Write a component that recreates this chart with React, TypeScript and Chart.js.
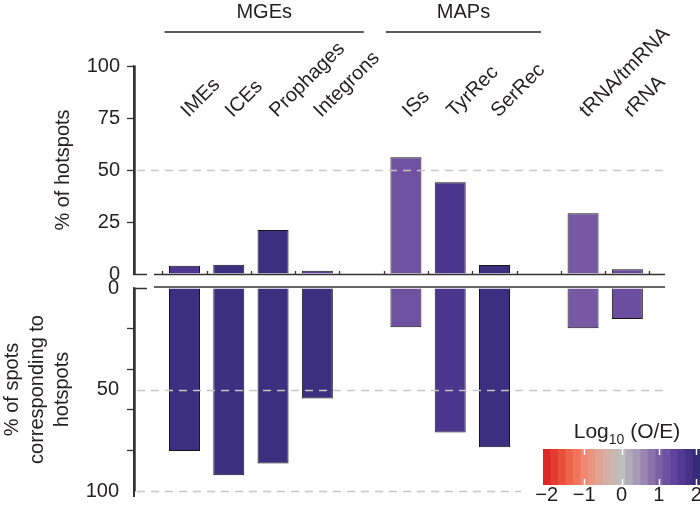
import React, { useEffect, useRef } from "react";
import { Chart, registerables } from "chart.js";
Chart.register(...registerables);

// categories along the x axis ("" = empty slot between groups)
const categories = ["IMEs", "ICEs", "Prophages", "Integrons", "", "ISs", "TyrRec", "SerRec", "", "tRNA/tmRNA", "rRNA"];
const groupNames = ["MGEs", "MAPs"];
const groupFirst = [0, 5];
const groupLast = [3, 7];

// upper panel: % of hotspots, and its log10(O/E)
const hotspotPct = [4.0, 4.5, 21.2, 1.6, null, 56.1, 44.1, 4.3, null, 29.2, 2.3];
const hotspotLogOE = [1.65, 1.9, 1.9, 1.4, null, 1.2, 1.7, 1.9, null, 1.1, 1.3];

// lower panel: % of spots corresponding to hotspots, and its log10(O/E)
const spotPct = [80.3, 92.3, 86.4, 54.4, null, 19.3, 71.2, 78.4, null, 19.8, 15.3];
const spotLogOE = [1.9, 1.9, 1.9, 1.9, null, 1.2, 1.7, 1.9, null, 1.1, 1.25];

const upperTicks = [0, 25, 50, 75, 100];
const lowerTicks = [0, 20, 40, 50, 60, 80, 100];
const lowerLabelled = [0, 50, 100];
const colorbarTicks = [-2, -1, 0, 1, 2];

const FONT = "'Liberation Sans', Arial, Helvetica, sans-serif";
const TEXT = "#231f20";
const AXIS = "#333333";
const DASH = "#c6c6c6";

// red - grey - blue ramp for log10(O/E)
const rampStops = [-2, -1.5, -1, -0.5, 0, 0.5, 1, 1.5, 2];
const rampRgb = [
  [222, 38, 38], [236, 90, 65], [240, 135, 110], [220, 170, 160], [190, 190, 190],
  [160, 145, 180], [125, 95, 165], [90, 60, 155], [52, 44, 120],
];
function oeColor(v: number) {
  const t = Math.max(-2, Math.min(2, v));
  let k = 0;
  while (k < rampStops.length - 2 && t > rampStops[k + 1]) k++;
  const f = (t - rampStops[k]) / (rampStops[k + 1] - rampStops[k]);
  const c = rampRgb[k].map((a, j) => Math.round(a + (rampRgb[k + 1][j] - a) * f));
  return `rgb(${c.join(",")})`;
}

const toPoints = (vals: (number | null)[]) =>
  categories.map((_, i) => ({ x: i, y: vals[i] })).filter((d) => d.y !== null);

const xAxis: any = {
  type: "linear",
  display: false,
  offset: false,
  grid: { offset: false },
  min: -1.14,
  max: 10.85,
  afterBuildTicks: (s: any) => {
    s.ticks = categories.map((_, i) => ({ value: i }));
  },
};

// dashed reference line at 50, drawn over the bars
function dashAt50(chart: any) {
  const { ctx, chartArea, scales } = chart;
  const y = Math.round(scales.y.getPixelForValue(50)) + 0.5;
  ctx.save();
  ctx.strokeStyle = DASH;
  ctx.lineWidth = 1.5;
  ctx.setLineDash([8, 6]);
  ctx.beginPath();
  ctx.moveTo(chartArea.left + 3, y);
  ctx.lineTo(chartArea.right, y);
  ctx.stroke();
  ctx.restore();
}

// vertical axis line, drawn a hair inside the plot area
function axisLine(chart: any) {
  const { ctx, chartArea, scales } = chart;
  const ys = scales.y;
  const p1 = ys.getPixelForValue(0);
  const p2 = ys.getPixelForValue(100);
  const x = Math.round(chartArea.left) + 1;
  ctx.save();
  ctx.setLineDash([]);
  ctx.strokeStyle = AXIS;
  ctx.lineWidth = 1.5;
  ctx.beginPath();
  ctx.moveTo(x, Math.min(p1, p2) - 0.5);
  ctx.lineTo(x, Math.max(p1, p2) + 0.5);
  ctx.stroke();
  ctx.restore();
}

const upperDecor = {
  id: "upperDecor",
  afterDatasetsDraw(chart: any) {
    dashAt50(chart);
  },
  afterDraw(chart: any) {
    const { ctx, chartArea, scales } = chart;
    const xs = scales.x;
    const ys = scales.y;
    const y0 = Math.round(ys.getPixelForValue(0)) + 0.5;
    const ax = Math.round(chartArea.left);
    axisLine(chart);
    ctx.save();
    ctx.setLineDash([]);
    ctx.strokeStyle = AXIS;
    ctx.lineWidth = 1.3;
    ctx.beginPath();
    ctx.moveTo(ax, y0);
    ctx.lineTo(ax + 13, y0);
    ctx.moveTo(ax + 20, y0);
    ctx.lineTo(chartArea.right, y0);
    for (let i = 0; i <= categories.length; i++) {
      const px = Math.round(xs.getPixelForValue(i - 0.5)) + 0.5;
      ctx.moveTo(px, y0);
      ctx.lineTo(px, y0 - 3.5);
    }
    ctx.stroke();

    // rotated category labels
    ctx.fillStyle = TEXT;
    ctx.font = `20px ${FONT}`;
    ctx.textAlign = "left";
    ctx.textBaseline = "alphabetic";
    const ly = ys.getPixelForValue(75);
    categories.forEach((name, i) => {
      if (!name) return;
      ctx.save();
      ctx.translate(xs.getPixelForValue(i) + 4, ly);
      ctx.rotate(-Math.PI / 4);
      ctx.fillText(name, 0, 0);
      ctx.restore();
    });

    // group headers
    ctx.font = `20px ${FONT}`;
    ctx.textAlign = "center";
    ctx.textBaseline = "middle";
    ctx.lineWidth = 1.5;
    ctx.strokeStyle = "#222";
    groupNames.forEach((g, k) => {
      const a = xs.getPixelForValue(groupFirst[k] - 0.45);
      const b = xs.getPixelForValue(groupLast[k] + 1.05);
      ctx.beginPath();
      ctx.moveTo(a, 32);
      ctx.lineTo(b, 32);
      ctx.stroke();
      ctx.fillText(g, (a + b) / 2, 12);
    });
    ctx.restore();
  },
};

const lowerDecor = {
  id: "lowerDecor",
  afterDatasetsDraw(chart: any) {
    dashAt50(chart);
  },
  afterDraw(chart: any) {
    const { ctx, chartArea, scales } = chart;
    const ys = scales.y;
    const y0 = Math.round(ys.getPixelForValue(0)) + 0.5;
    const y100 = Math.round(ys.getPixelForValue(100)) + 0.5;
    const ax = Math.round(chartArea.left);
    const cbLeft = 543;
    const cbRight = 700;
    const cbTop = 449;
    const cbBottom = 485;
    axisLine(chart);
    ctx.save();
    ctx.setLineDash([]);
    ctx.strokeStyle = AXIS;
    ctx.lineWidth = 1.3;
    ctx.beginPath();
    ctx.moveTo(ax, y0);
    ctx.lineTo(ax + 13, y0);
    ctx.moveTo(ax + 20, y0 - 1.5);
    ctx.lineTo(chartArea.right, y0 - 1.5);
    ctx.stroke();

    ctx.strokeStyle = DASH;
    ctx.lineWidth = 1.5;
    ctx.setLineDash([8, 6]);
    ctx.beginPath();
    ctx.moveTo(ax + 3, y100);
    ctx.lineTo(cbLeft - 22, y100);
    ctx.stroke();
    ctx.setLineDash([]);

    // colour bar
    const steps = 21;
    const lo = -2.1;
    const hi = 2.1;
    const w = (cbRight - cbLeft) / steps;
    for (let k = 0; k < steps; k++) {
      ctx.fillStyle = oeColor(-2 + 0.2 * k);
      ctx.fillRect(cbLeft + k * w, cbTop, w + 0.6, cbBottom - cbTop);
    }
    const pos = (v: number) => cbLeft + ((v - lo) / (hi - lo)) * (cbRight - cbLeft);
    ctx.strokeStyle = "#ffffff";
    ctx.lineWidth = 1.5;
    ctx.beginPath();
    colorbarTicks.forEach((v) => {
      const px = Math.round(pos(v)) + 0.5;
      if (v === -2) return;
      ctx.moveTo(px, cbTop);
      ctx.lineTo(px, cbTop + 6);
      ctx.moveTo(px, cbBottom - 6);
      ctx.lineTo(px, cbBottom);
    });
    ctx.stroke();

    ctx.fillStyle = TEXT;
    ctx.font = `20px ${FONT}`;
    ctx.textAlign = "center";
    ctx.textBaseline = "middle";
    colorbarTicks.forEach((v) => {
      ctx.fillText(v < 0 ? `\u2212${Math.abs(v)}` : String(v), pos(v), 495);
    });

    // Log10 (O/E) title
    ctx.textAlign = "left";
    ctx.textBaseline = "alphabetic";
    ctx.font = `21px ${FONT}`;
    const part1 = "Log";
    const part3 = " (O/E)";
    const w1 = ctx.measureText(part1).width;
    const w3 = ctx.measureText(part3).width;
    ctx.font = `14px ${FONT}`;
    const w2 = ctx.measureText("10").width;
    let tx = 627 - (w1 + w2 + w3) / 2;
    ctx.font = `21px ${FONT}`;
    ctx.fillText(part1, tx, 438);
    tx += w1;
    ctx.font = `14px ${FONT}`;
    ctx.fillText("10", tx, 444);
    tx += w2;
    ctx.font = `21px ${FONT}`;
    ctx.fillText(part3, tx, 438);
    ctx.restore();
  },
};

const App: React.FC = () => {
  const topRef = useRef<HTMLCanvasElement | null>(null);
  const bottomRef = useRef<HTMLCanvasElement | null>(null);

  useEffect(() => {
    if (!topRef.current || !bottomRef.current) return;

    const top = new Chart(topRef.current, {
      type: "bar",
      data: {
        datasets: [
          {
            data: toPoints(hotspotPct) as any,
            backgroundColor: (c: any) => oeColor(hotspotLogOE[c.raw ? c.raw.x : 0] as number),
            borderColor: "#151515",
            borderWidth: 1,
            barPercentage: 0.7,
            categoryPercentage: 1,
          },
        ],
      },
      options: {
        animation: false,
        responsive: true,
        maintainAspectRatio: false,
        events: [],
        layout: { padding: { top: 66, right: 35, bottom: 237, left: 0 } },
        plugins: { legend: { display: false }, tooltip: { enabled: false } },
        scales: {
          x: xAxis,
          y: {
            min: 0,
            max: 100,
            afterBuildTicks: (s: any) => {
              s.ticks = upperTicks.map((v) => ({ value: v }));
            },
            afterFit: (s: any) => {
              s.width = 134;
            },
            ticks: { font: { family: FONT, size: 20 }, color: TEXT, padding: 7 },
            grid: {
              color: "transparent",
              tickColor: (c: any) => (c.tick && c.tick.value === 0 ? "transparent" : AXIS),
              tickLength: 7,
              tickWidth: 1.3,
            },
            border: { display: true, color: AXIS, width: 1.3 },
            title: {
              display: true,
              text: "% of hotspots",
              font: { family: FONT, size: 20 },
              color: TEXT,
              padding: { top: 51, bottom: 0 },
            },
          },
        },
      },
      plugins: [upperDecor],
    });

    const bottom = new Chart(bottomRef.current, {
      type: "bar",
      data: {
        datasets: [
          {
            data: toPoints(spotPct) as any,
            backgroundColor: (c: any) => oeColor(spotLogOE[c.raw ? c.raw.x : 0] as number),
            borderColor: "#151515",
            borderWidth: 1,
            barPercentage: 0.7,
            categoryPercentage: 1,
          },
        ],
      },
      options: {
        animation: false,
        responsive: true,
        maintainAspectRatio: false,
        events: [],
        layout: { padding: { top: 288, right: 35, bottom: 15, left: 0 } },
        plugins: { legend: { display: false }, tooltip: { enabled: false } },
        scales: {
          x: xAxis,
          y: {
            min: 0,
            max: 100,
            reverse: true,
            afterBuildTicks: (s: any) => {
              s.ticks = lowerTicks.map((v) => ({ value: v }));
            },
            afterFit: (s: any) => {
              s.width = 134;
            },
            ticks: {
              font: { family: FONT, size: 20 },
              color: TEXT,
              padding: 8,
              callback: (v: any) => (lowerLabelled.includes(Number(v)) ? String(v) : ""),
            },
            grid: {
              color: "transparent",
              tickColor: (c: any) =>
                c.tick && lowerLabelled.includes(c.tick.value) ? "transparent" : AXIS,
              tickLength: 7,
              tickWidth: 1.3,
            },
            border: { display: true, color: AXIS, width: 1.3 },
            title: {
              display: true,
              text: ["% of spots", "corresponding to", "hotspots"],
              font: { family: FONT, size: 20, lineHeight: 1.25 },
              color: TEXT,
              padding: { top: 0, bottom: 0 },
            },
          },
        },
      },
      plugins: [lowerDecor],
    });

    return () => {
      top.destroy();
      bottom.destroy();
    };
  }, []);

  const axisRule = (top: number): React.CSSProperties => ({
    position: "absolute",
    left: 133.3,
    top,
    width: 1.4,
    height: 209,
    background: AXIS,
    pointerEvents: "none",
  });

  return (
    <div style={{ position: "absolute", left: 0, top: 0, width: 700, height: 511, background: "#fff" }}>
      <div style={{ position: "absolute", left: 0, top: 0, width: 700, height: 511 }}>
        <canvas ref={topRef} />
      </div>
      <div style={{ position: "absolute", left: 0, top: 0, width: 700, height: 511 }}>
        <canvas ref={bottomRef} />
      </div>
      <div style={axisRule(65.5)} />
      <div style={axisRule(287.5)} />
    </div>
  );
};

export default App;
